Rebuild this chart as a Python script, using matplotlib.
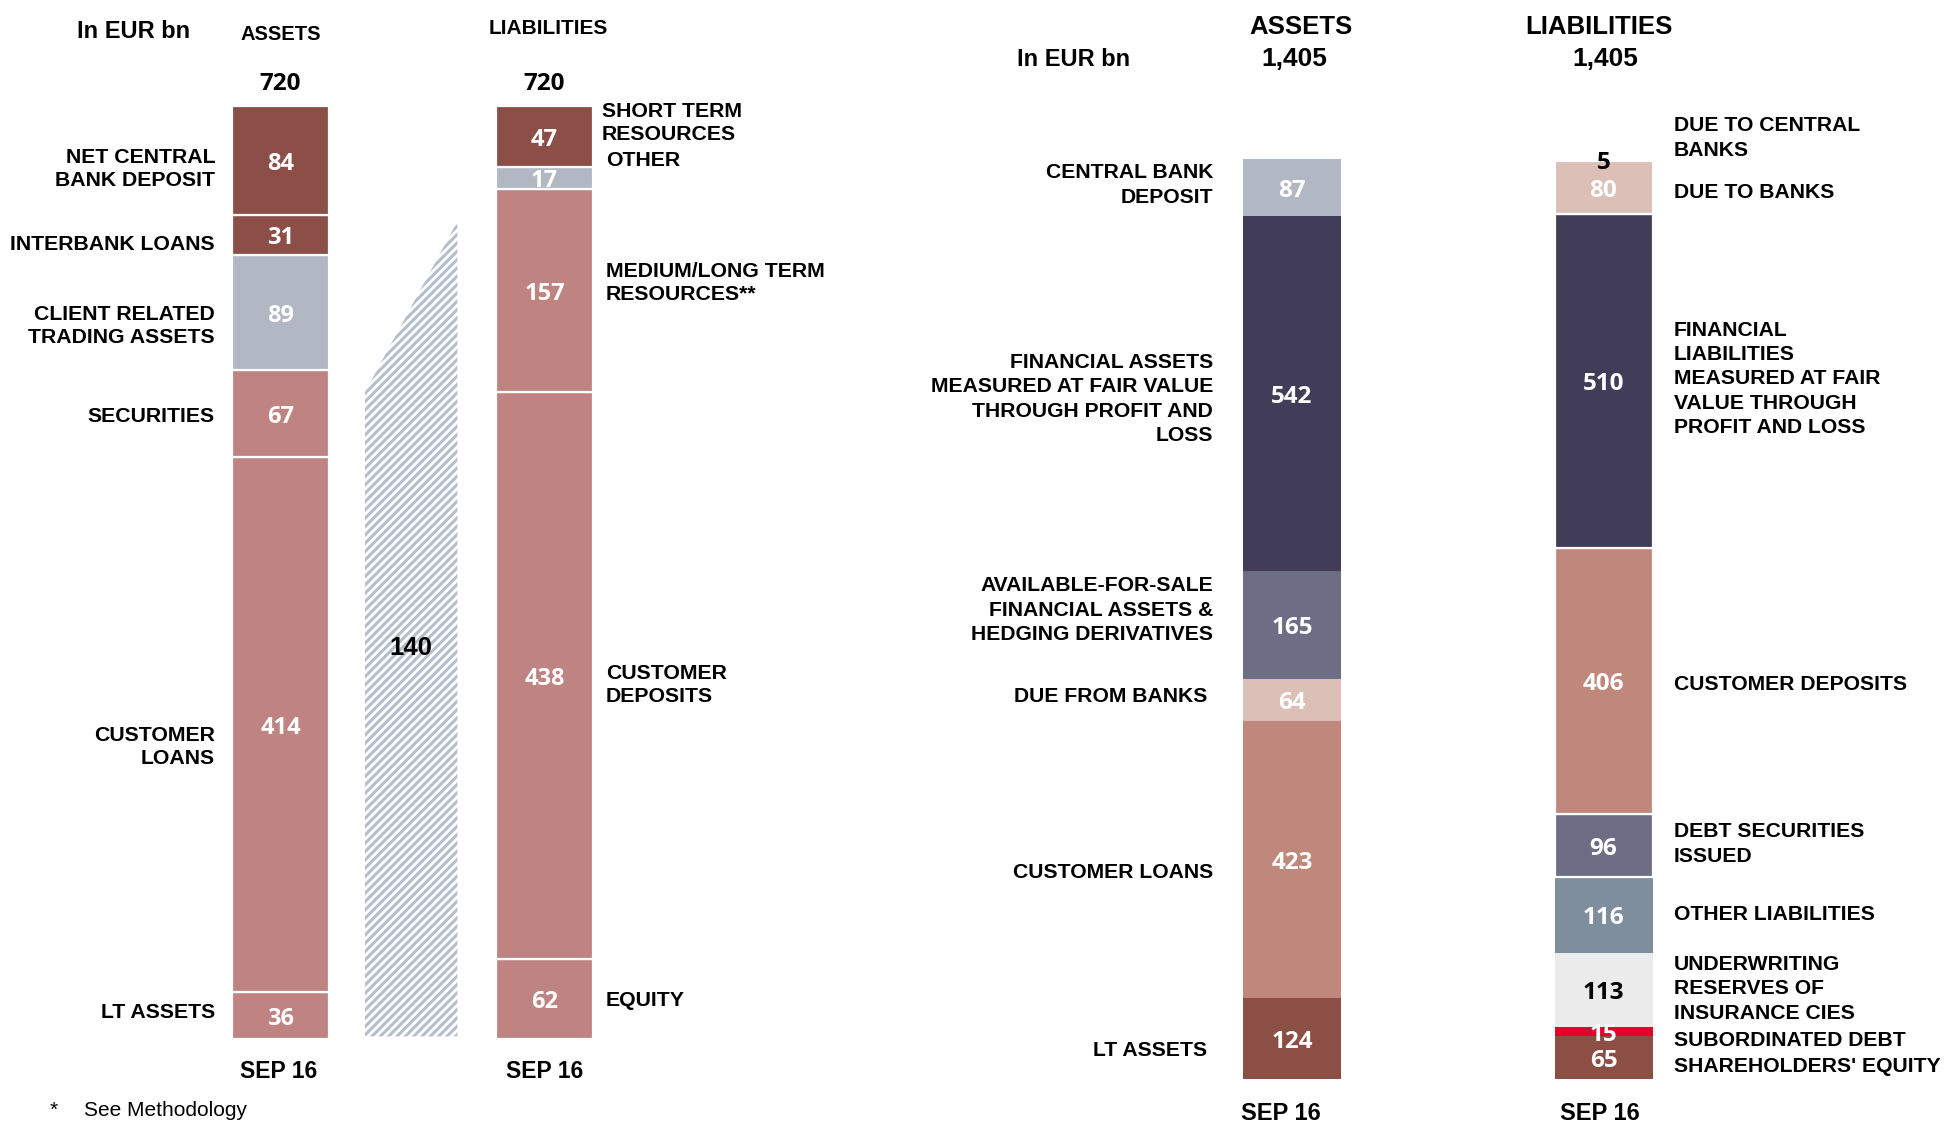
import os
import matplotlib
matplotlib.use("Agg")
import matplotlib.pyplot as plt
from matplotlib import font_manager
from matplotlib.font_manager import FontProperties

# ---------------------------------------------------------------- data
# Left balance sheet (EUR bn), listed top to bottom
left_asset_names = ["NET CENTRAL\nBANK DEPOSIT", "INTERBANK LOANS",
                    "CLIENT RELATED\nTRADING ASSETS", "SECURITIES",
                    "CUSTOMER\nLOANS", "LT ASSETS"]
left_asset_values = [84, 31, 89, 67, 414, 36]
left_liab_names = ["SHORT TERM\nRESOURCES", "OTHER",
                   "MEDIUM/LONG TERM\nRESOURCES**", "CUSTOMER\nDEPOSITS", "EQUITY"]
left_liab_values = [47, 17, 157, 438, 62]
left_totals = [720, 720]
funding_gap_value = 140
funding_gap_tops = [500, 632]

# Right balance sheet (EUR bn), listed top to bottom
right_asset_names = ["CENTRAL BANK\nDEPOSIT",
                     "FINANCIAL ASSETS\nMEASURED AT FAIR VALUE\nTHROUGH PROFIT AND\nLOSS",
                     "AVAILABLE-FOR-SALE\nFINANCIAL ASSETS &\nHEDGING DERIVATIVES",
                     "DUE FROM BANKS", "CUSTOMER LOANS", "LT ASSETS"]
right_asset_values = [87, 542, 165, 64, 423, 124]
right_liab_names = ["DUE TO CENTRAL\nBANKS", "DUE TO BANKS",
                    "FINANCIAL\nLIABILITIES\nMEASURED AT FAIR\nVALUE THROUGH\nPROFIT AND LOSS",
                    "CUSTOMER DEPOSITS", "DEBT SECURITIES\nISSUED", "OTHER LIABILITIES",
                    "UNDERWRITING\nRESERVES OF\nINSURANCE CIES", "SUBORDINATED DEBT",
                    "SHAREHOLDERS' EQUITY"]
right_liab_values = [5, 80, 510, 406, 96, 116, 113, 15, 65]
right_totals = ["1,405", "1,405"]

period_label = "SEP 16"
unit_label = "In EUR bn"

# ---------------------------------------------------------------- styles
DARK = "#8c4f48"
GREY = "#b1b8c3"
ROSE = "#bf8481"
left_asset_colors = [DARK, DARK, GREY, ROSE, ROSE, ROSE]
left_liab_colors = [DARK, GREY, ROSE, ROSE, ROSE]

NAVY = "#413c58"
SLATE = "#6e6d86"
BLUSH = "#dcbfb6"
CLAY = "#c0887c"
BROWN = "#8b4f46"
right_asset_colors = [GREY, NAVY, SLATE, BLUSH, CLAY, BROWN]
right_liab_colors = ["white", BLUSH, NAVY, CLAY, SLATE, "#7f8e9d", "#ebebeb", "#e4002b", BROWN]
right_liab_text = ["black", "white", "white", "white", "white", "white", "black", "white", "white"]
right_liab_sep = [False, True, True, True, True, False, False, False, False]

AXIS_COL = "#b6c0cc"
HATCH_COL = "#b5bfcb"


def pick_bold(candidates):
    """First family whose bold request resolves to a real bold face file."""
    for name in candidates:
        try:
            path = font_manager.findfont(FontProperties(family=name, weight="bold"),
                                         fallback_to_default=False)
        except Exception:
            continue
        base = os.path.basename(path).lower()
        if "bold" in base and "semi" not in base and "extra" not in base:
            return name
    return "Liberation Sans"


SANS = "Liberation Sans"
NUM = pick_bold(["Open Sans", "Noto Sans", "Lato", "Roboto"])

plt.rcParams["hatch.linewidth"] = 2.2

W, H, DPI = 1945, 1122, 100
fig = plt.figure(figsize=(W / DPI, H / DPI), dpi=DPI)


def put(x, y, s, **kw):
    """Place text at pixel position (x from left, y from top)."""
    kw.setdefault("family", SANS)
    kw.setdefault("weight", "bold")
    kw.setdefault("color", "black")
    fig.text(x / W, 1 - y / H, s, **kw)


def stack(ax, x, width, values, colors, seps=None, lw=1.6):
    """Draw a stacked bar from a top-to-bottom list; returns segment centres."""
    centres = []
    base = 0
    for i in range(len(values) - 1, -1, -1):
        v = values[i]
        sep = True if seps is None else seps[i]
        ax.bar(x, v, width=width, bottom=base, color=colors[i],
               edgecolor="white" if sep else colors[i],
               linewidth=lw if sep else 0, zorder=2)
        centres.append(base + v / 2)
        base += v
    return centres[::-1]


def value_label(ax, x, y, s, color="white", size=17.5, dy=-2.5):
    ax.annotate(s, (x, y), xytext=(0, dy), textcoords="offset points",
                ha="center", va="center", color=color, family=NUM,
                weight="bold", fontsize=size, zorder=3)


# ---------------------------------------------------------------- left panel
axL = fig.add_axes([0, (H - 1039) / H, 900 / W, 1035 / H])
axL.set_xlim(-280.5 / 264, (900 - 280.5) / 264)
axL.set_ylim(0, 800)
axL.axis("off")
bw_l = 97 / 264

cA = stack(axL, 0, bw_l, left_asset_values, left_asset_colors)
cL = stack(axL, 1, bw_l, left_liab_values, left_liab_colors)
for c, v in zip(cA, left_asset_values):
    value_label(axL, 0, c, str(v), size=17)
for c, v in zip(cL, left_liab_values):
    value_label(axL, 1, c, str(v), size=17)

# funding gap wedge between the two bars
gx = [0.32, 0.67]
axL.fill_between(gx, [2, 2], funding_gap_tops, facecolor="white",
                 edgecolor=HATCH_COL, hatch="////", linewidth=0, zorder=1)
axL.text(sum(gx) / 2, 302, str(funding_gap_value), ha="center", va="center",
         family=SANS, weight="bold", fontsize=18.5, zorder=3)

axL.hlines(-1.2, (155 - 280.5) / 264, (670 - 280.5) / 264, color=AXIS_COL,
           linewidth=1.8, zorder=4)

for x, tot, vals in zip([0, 1], left_totals, [left_asset_values, left_liab_values]):
    axL.annotate(str(tot), (x, sum(vals)), xytext=(0, 16), textcoords="offset points",
                 ha="center", va="center", family=NUM, weight="bold", fontsize=17.5)

put(77, 31, unit_label, fontsize=17, ha="left", va="center")
put(281, 34, "ASSETS", fontsize=14.5, ha="center", va="center")
put(548, 28, "LIABILITIES", fontsize=15, ha="center", va="center")
put(279, 1071, period_label, fontsize=16.5, ha="center", va="center")
put(545, 1071, period_label, fontsize=16.5, ha="center", va="center")

left_asset_label_y = [169, 244, 326, 417, 747, 1013]
for s, y in zip(left_asset_names, left_asset_label_y):
    put(215, y, s, fontsize=15.3, ha="right", va="center", linespacing=1.29,
        multialignment="right")
left_liab_label_y = [123, 160, 283, 685, 1001]
left_liab_label_x = [602, 606, 606, 606, 606]
for s, x, y in zip(left_liab_names, left_liab_label_x, left_liab_label_y):
    put(x, y, s, fontsize=15.3, ha="left", va="center", linespacing=1.29)

put(50, 1110, "*", fontsize=15, weight="normal", ha="left", va="center")
put(84, 1111, "See Methodology", fontsize=15, weight="normal", ha="left", va="center")

# ---------------------------------------------------------------- right panel
px_per_unit = 920.4 / 1405
axR = fig.add_axes([900 / W, (H - 1079) / H, 1045 / W, 1600 * px_per_unit / H])
axR.set_xlim((900 - 1292) / 311.5, (1945 - 1292) / 311.5)
axR.set_ylim(0, 1600)
axR.axis("off")
bw_r = 98 / 311.5

cRA = stack(axR, 0, bw_r, right_asset_values, right_asset_colors,
            seps=[False] * len(right_asset_values))
cRL = stack(axR, 1, bw_r, right_liab_values, right_liab_colors, seps=right_liab_sep)
for c, v in zip(cRA, right_asset_values):
    value_label(axR, 0, c, str(v))
for c, v, tc in zip(cRL, right_liab_values, right_liab_text):
    value_label(axR, 1, c, str(v), color=tc)

axR.hlines(-1.5, (1167 - 1292) / 311.5, (1415 - 1292) / 311.5, color=AXIS_COL,
           linewidth=1.8, zorder=4)
axR.hlines(-1.5, (1482 - 1292) / 311.5, (1727 - 1292) / 311.5, color=AXIS_COL,
           linewidth=1.8, zorder=4)

put(1301, 27, "ASSETS", fontsize=18.5, ha="center", va="center")
put(1599, 27, "LIABILITIES", fontsize=18.5, ha="center", va="center")
put(1294, 59, right_totals[0], fontsize=19, ha="center", va="center")
put(1605, 59, right_totals[1], fontsize=19, ha="center", va="center")
put(1017, 60, unit_label, fontsize=17, ha="left", va="center")
put(1281, 1114, period_label, fontsize=17, ha="center", va="center")
put(1600, 1114, period_label, fontsize=17, ha="center", va="center")

right_asset_label_y = [185, 399, 610, 696, 872, 1051]
right_asset_label_x = [1213, 1213, 1213, 1207, 1213, 1207]
for s, x, y in zip(right_asset_names, right_asset_label_x, right_asset_label_y):
    put(x, y, s, fontsize=15.2, ha="right", va="center", linespacing=1.36,
        multialignment="right")
right_liab_label_y = [138, 193, 379, 685, 844, 915, 989, 1041, 1067]
for s, y in zip(right_liab_names, right_liab_label_y):
    put(1674, y, s, fontsize=15.2, ha="left", va="center", linespacing=1.36)

fig.savefig("out.png", dpi=DPI, facecolor="white")
